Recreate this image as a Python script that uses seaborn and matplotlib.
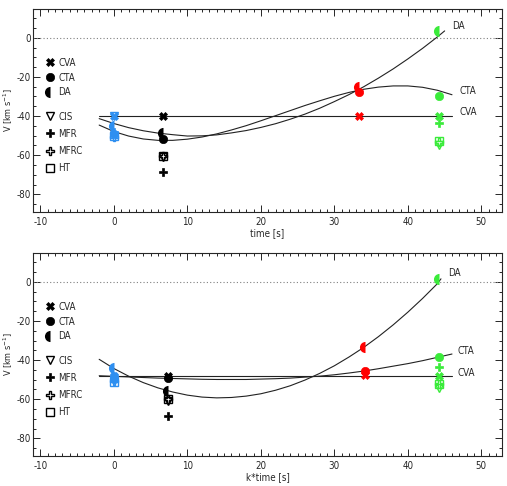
import numpy as np
import pandas as pd
import seaborn as sns
import matplotlib.pyplot as plt
from matplotlib.lines import Line2D
from matplotlib.markers import MarkerStyle
from matplotlib.ticker import MultipleLocator

sns.set_style("ticks")
plt.rcParams["font.family"] = ["DejaVu Sans"]
plt.rcParams["font.stretch"] = "condensed"
plt.rcParams["font.size"] = 7
plt.rcParams["axes.unicode_minus"] = False

# spacecraft colours (blue, black, red, green)
sc_colors = ["#2e8ff0", "black", "red", "#3aeb3a"]

methods = ["CVA", "CTA", "DA", "CIS", "MFR", "MFRC", "HT"]

# ---- top panel: time [s]
time_top = [0, 6.7, 33.4, 44.3]
top_vals = {
    "CVA": [-40, -40, -40, -40],
    "CTA": [-49, -51.8, -27.5, -29.8],
    "DA": [-45, -48.4, -25.3, 3.4],
    "CIS": [-40, -61, np.nan, -55],
    "MFR": [-48, -68.6, np.nan, -43.6],
    "MFRC": [-50.5, -60.3, np.nan, -53],
    "HT": [-50, -60.3, np.nan, -52.5],
}

# fitted curves
curve_x = [-2, 0, 2, 4, 6, 8, 10, 12, 14, 16, 18, 20, 22, 24, 26, 28, 30,
           32, 34, 36, 38, 40, 42, 44, 46]
top_cva = [-40] * 25
top_cta = [-44.6, -47.9, -50.2, -51.7, -52.4, -52.4, -51.8, -50.7, -49.1,
           -47.1, -44.9, -42.4, -39.8, -37.2, -34.6, -32.2, -29.9, -27.9,
           -26.3, -25.2, -24.6, -24.6, -25.3, -26.8, -29.1]
da_x = [-2, 0, 2, 4, 6, 8, 10, 12, 14, 16, 18, 20, 22, 24, 26, 28, 30,
        32, 34, 36, 38, 40, 42, 44, 45]
top_da = [-41.3, -43.8, -45.9, -47.5, -48.7, -49.5, -50.2, -50.1, -49.6,
          -48.6, -47.4, -45.8, -43.9, -41.6, -39.0, -36.0, -32.6, -29.0,
          -25.0, -20.6, -15.9, -10.8, -5.4, 0.4, 3.5]

# ---- bottom panel: k*time [s]
time_bot = [0, 7.35, 34.1, 44.3]
bot_vals = {
    "CVA": [-48, -48.2, -47.8, -48.2],
    "CTA": [-49.5, -49.2, -45.6, -38.5],
    "DA": [-44, -55.7, -33.2, 1.2],
    "CIS": [-50, -61, np.nan, -54.5],
    "MFR": [-48, -68.6, np.nan, -43.4],
    "MFRC": [-50.5, -60.1, np.nan, -52.2],
    "HT": [-51, -60.1, np.nan, -52],
}
bot_cva = [-48] * 25
bot_cta = [-48.0, -48.3, -48.6, -48.9, -49.2, -49.4, -49.6, -49.8, -49.9,
           -49.9, -49.9, -49.7, -49.5, -49.2, -48.7, -48.2, -47.5, -46.6,
           -45.6, -44.4, -43.1, -41.8, -40.3, -38.6, -36.9]
da_x_bot = [-2, 0, 2, 4, 6, 8, 10, 12, 14, 16, 18, 20, 22, 24, 26, 28, 30,
            32, 34, 36, 38, 40, 42, 44, 44.5]
bot_da = [-39.6, -44.3, -48.2, -51.5, -54.2, -56.3, -57.9, -58.9, -59.3,
          -59.1, -58.4, -57.2, -55.4, -53.1, -50.2, -46.8, -42.9, -38.4,
          -33.5, -28.0, -22.0, -15.5, -8.5, -1.0, 1.5]

marker_style = {
    "CVA": dict(marker="X", fillstyle="full"),
    "CTA": dict(marker="o", fillstyle="full"),
    "DA": dict(marker="o", fillstyle="left"),
    "CIS": dict(marker="v", fillstyle="none"),
    "MFR": dict(marker="P", fillstyle="full"),
    "MFRC": dict(marker="P", fillstyle="none"),
    "HT": dict(marker="s", fillstyle="none"),
}


def edge_width(fs):
    if fs == "left":
        return 0
    return 1.0 if fs == "none" else 0.5


def draw_panel(ax, times, vals, curves, labels, xlabel):
    ax.axhline(0, color="grey", ls=(0, (1, 2)), lw=0.8)
    for xs, ys in curves:
        sns.lineplot(x=xs, y=ys, ax=ax, color="#222222", lw=0.8,
                     sort=False, estimator=None)
    for m in methods:
        st = marker_style[m]
        for t, v, c in zip(times, vals[m], sc_colors):
            if np.isnan(v):
                continue
            ms = MarkerStyle(st["marker"], fillstyle=st["fillstyle"])
            size = 8 if st["fillstyle"] == "left" else 6
            ax.plot([t], [v], linestyle="none", marker=ms, color=c,
                    markeredgecolor=c, markeredgewidth=edge_width(st["fillstyle"]),
                    markersize=size)
    for txt, x, y in labels:
        ax.text(x, y, txt, fontsize=7, va="center", ha="left")

    ax.set_xlim(-11.0, 52.8)
    ax.set_ylim(-89, 14.7)
    ax.set_xticks([-10, 0, 10, 20, 30, 40, 50])
    ax.set_yticks([-80, -60, -40, -20, 0])
    ax.xaxis.set_minor_locator(MultipleLocator(1))
    ax.yaxis.set_minor_locator(MultipleLocator(5))
    ax.tick_params(which="both", direction="in", top=True, right=True,
                   labelsize=7, width=0.7)
    ax.tick_params(which="major", length=5)
    ax.tick_params(axis="y", pad=1.5)
    ax.tick_params(which="minor", length=2.5)
    for s in ax.spines.values():
        s.set_linewidth(0.8)
    ax.set_xlabel(xlabel, fontsize=7, labelpad=1)
    ax.set_ylabel("V [km s$^{-1}$]", fontsize=6.5)
    ax.yaxis.set_label_coords(-0.039, 0.5)

    def handle(m):
        st = marker_style[m]
        ms = MarkerStyle(st["marker"], fillstyle=st["fillstyle"])
        size = 8 if st["fillstyle"] == "left" else 6
        return Line2D([], [], linestyle="none", marker=ms, color="black",
                      markeredgewidth=edge_width(st["fillstyle"]), markersize=size)

    leg1 = ax.legend([handle(m) for m in methods[:3]], methods[:3],
                     loc="upper left", bbox_to_anchor=(0.025, 0.76),
                     frameon=False, fontsize=7, handlelength=1,
                     handletextpad=0.4, borderpad=0, borderaxespad=0,
                     labelspacing=0.5)
    ax.add_artist(leg1)
    ax.legend([handle(m) for m in methods[3:]], methods[3:],
              loc="upper left", bbox_to_anchor=(0.025, 0.495),
              frameon=False, fontsize=7, handlelength=1,
              handletextpad=0.4, borderpad=0, borderaxespad=0,
              labelspacing=0.75)


fig = plt.figure(figsize=(5.07, 4.86), dpi=100)
ax1 = fig.add_axes([0.0651, 0.5638, 0.925, 0.4177])
ax2 = fig.add_axes([0.0651, 0.0617, 0.925, 0.4177])

draw_panel(ax1, time_top, top_vals,
           [(curve_x, top_cva), (curve_x, top_cta), (da_x, top_da)],
           [("DA", 46.0, 6.0), ("CTA", 47.0, -27.4), ("CVA", 47.0, -38.0)],
           "time [s]")
draw_panel(ax2, time_bot, bot_vals,
           [(curve_x, bot_cva), (curve_x, bot_cta), (da_x_bot, bot_da)],
           [("DA", 45.5, 4.3), ("CTA", 46.8, -35.4), ("CVA", 46.8, -46.5)],
           "k*time [s]")

plt.savefig("out.png", dpi=100)
